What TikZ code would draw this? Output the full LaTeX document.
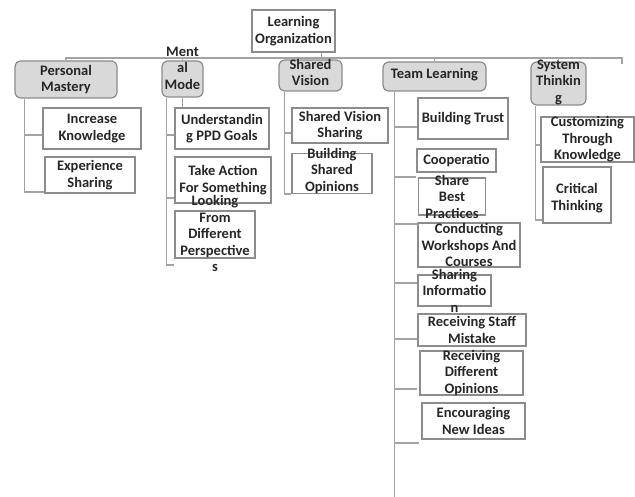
\documentclass[tikz,border=0pt]{standalone}
\usepackage{fontspec}
\setmainfont{Carlito}
\definecolor{linegray}{HTML}{A3A3A3}
\definecolor{boxgray}{HTML}{8C8C8C}
\definecolor{headgray}{HTML}{D9D9D9}
\newcommand\boxfont{\fontsize{14.5}{16.5}\selectfont\bfseries}

\begin{document}
\begin{tikzpicture}[x=1pt, y=-1pt,
    head/.style 2 args={draw=boxgray, fill=headgray, line width=1.2pt, rounded corners=6pt,
      minimum width=#1pt, minimum height=#2pt, inner sep=0pt},
    item/.style 2 args={draw=boxgray, fill=white, line width=1.2pt,
      minimum width=#1pt, minimum height=#2pt, inner sep=0pt},
    every label/.style={align=center, font=\boxfont, text=black!85, inner sep=0pt},
    link/.style={draw=linegray, line width=1.8pt}]

  \useasboundingbox (0,0) rectangle (635,497);

  % bus
  \coordinate (busL) at (65,58);
  \coordinate (busR) at (622,58);
  \draw[link] (busL) -- (busR) -- ++(0,6);

  % top and heads
  \node[item={83}{42}, label=center:{Learning\\Organization}] (lo) at (293.5,31) {};
  \node[head={102}{37}, label=center:{Personal\\Mastery}] (pm) at (66,79.5) {};
  \node[head={41}{36}, label={[yshift=11pt]center:{Ment\\al\\Mode}}] (mm) at (182.5,79) {};
  \node[head={63}{31}, label={[yshift=3pt]center:{Shared\\Vision}}] (sv) at (310.5,75.5) {};
  \node[head={103}{29}, label={[yshift=1.5pt]center:{Team Learning}}] (tl) at (434.5,76.5) {};
  \node[head={55}{43}, label={[yshift=1.5pt]center:{System\\Thinkin\\g}}] (st) at (558.5,83.5) {};

  % personal mastery
  \node[item={98}{41}, label=center:{Increase\\Knowledge}] (ik) at (92,128.5) {};
  \node[item={90}{36}, label=center:{Experience\\Sharing}] (es) at (90,175) {};

  % mental model
  \node[item={94}{41}, label=center:{Understandin\\g PPD Goals}] (ud) at (222,128.5) {};
  \node[item={96}{46}, label=center:{Take Action\\For Something}] (ta) at (223,180) {};
  \node[item={80}{47}, label={[yshift=1pt]center:{Looking\\From\\Different\\Perspective\\s}}] (fd) at (215,234.5) {};

  % shared vision
  \node[item={96}{35}, label=center:{Shared Vision\\Sharing}] (svs) at (340,125.5) {};
  \node[item={80}{40}, label={[yshift=2.5pt]center:{Building\\Shared\\Opinions}}] (bso) at (332,173.5) {};

  % team learning
  \node[item={90}{41}, label=center:{Building Trust}] (bt) at (463,118.5) {};
  \node[item={79}{23}, label=center:{Cooperatio}] (co) at (456.5,160.5) {};
  \node[item={67}{37}, label=center:{Share\\Best\\Practices}] (sb) at (452,196.5) {};
  \node[item={102}{44}, label=center:{Conducting\\Workshops And\\Courses}] (cw) at (469,245) {};
  \node[item={73}{31}, label=center:{Sharing\\Informatio\\n}] (si) at (454.5,290.5) {};
  \node[item={108}{32}, label=center:{Receiving Staff\\Mistake}] (rs) at (472,330) {};
  \node[item={103}{44}, label=center:{Receiving\\Different\\Opinions}] (rd) at (471.5,373) {};
  \node[item={103}{36}, label=center:{Encouraging\\New Ideas}] (en) at (473.5,421) {};

  % system thinking
  \node[item={93}{45}, label=center:{Customizing\\Through\\Knowledge}] (cu) at (587.5,139.5) {};
  \node[item={68}{56}, label={[yshift=-3pt]center:{Critical\\Thinking}}] (ct) at (577,195) {};

  % links to the bus
  \draw[link] ([xshift=28pt]lo.south) -- ([xshift=28pt]lo.south |- busL);
  \foreach \h in {pm,mm,sv,tl,st}
    \draw[link] (\h.north) -- (\h.north |- busL);

  % trunks
  \coordinate (pmt) at ([xshift=10pt]pm.south west);
  \coordinate (mmt) at ([xshift=5pt]mm.south west);
  \coordinate (svt) at ([xshift=6pt]sv.south west);
  \coordinate (tlt) at ([xshift=12pt]tl.south west);
  \coordinate (stt) at ([xshift=5pt]st.south west);

  \draw[link] (pmt) |- ([yshift=-6.5pt]ik.west);
  \draw[link] (pmt) |- ([yshift=-17pt]es.west);

  \draw[link] (mm.south) -- (mm.south |- ud.north);
  \draw[link] (mmt) |- ([yshift=-6.5pt]ud.west);
  \draw[link] (mmt) |- ([yshift=-18pt]ta.west);
  \draw[link] (mmt) |- ([yshift=-30.5pt]fd.west);

  \draw[link] (svt) |- ([yshift=-7.5pt]svs.west);
  \draw[link] (svt) |- ([yshift=-20.5pt]bso.west);

  \draw[link] (tlt) |- ([yshift=-8.5pt]bt.west);
  \draw[link] (tlt) |- ([yshift=-16.5pt]co.west);
  \draw[link] (tlt) |- ([yshift=-27.5pt]sb.west);
  \draw[link] (tlt) |- ([yshift=-38pt]cw.west);
  \draw[link] (tlt) |- ([yshift=-48.5pt]si.west);
  \draw[link] (tlt) |- ([yshift=-59pt]rs.west);
  \draw[link] (tlt) |- ([yshift=-70pt]rd.west);
  \draw[link] (tlt) -- ++(0,405);

  \draw[link] (stt) |- ([yshift=-5.5pt]cu.west);
  \draw[link] (stt) |- ([yshift=-25pt]ct.west);
\end{tikzpicture}
\end{document}
